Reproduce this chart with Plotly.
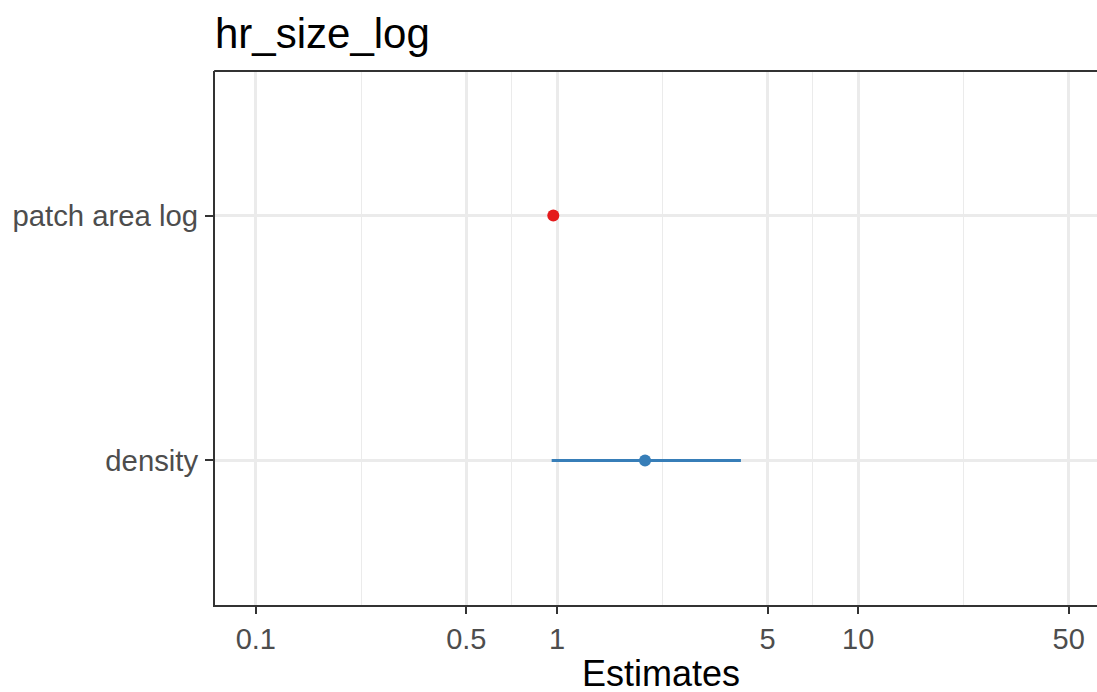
import plotly.graph_objects as go

# Model estimates (exponentiated) with confidence intervals
terms = ["density", "patch area log"]
estimates = [1.96, 0.972]
ci_low = [0.96, 0.962]
ci_high = [4.08, 0.982]
colors = ["#377EB8", "#E41A1C"]

x_ticks = [0.1, 0.5, 1, 5, 10, 50]
x_tick_labels = ["0.1", "0.5", "1", "5", "10", "50"]
# minor breaks sit halfway between major breaks on the log scale
minor_ticks = [(a * b) ** 0.5 for a, b in zip(x_ticks[:-1], x_ticks[1:])]

positions = list(range(1, len(terms) + 1))

fig = go.Figure()
for pos, est, lo, hi, col in zip(positions, estimates, ci_low, ci_high, colors):
    fig.add_trace(go.Scatter(
        x=[lo, hi], y=[pos, pos], mode="lines",
        line=dict(color=col, width=3), showlegend=False, hoverinfo="skip",
    ))
    fig.add_trace(go.Scatter(
        x=[est], y=[pos], mode="markers",
        marker=dict(color=col, size=12, line=dict(width=0)), showlegend=False,
    ))

font_family = "Liberation Sans, Arial, sans-serif"

fig.update_layout(
    width=1097, height=692,
    margin=dict(l=215, r=0, t=71, b=87),
    paper_bgcolor="white", plot_bgcolor="white",
    font=dict(family=font_family, color="#4D4D4D"),
    title=dict(
        text="hr_size_log", x=0, xref="paper", xanchor="left",
        y=1 - 33 / 692, yref="container", yanchor="middle",
        font=dict(size=42, color="black", family=font_family),
    ),
    xaxis=dict(
        type="log",
        range=[-1.1355, 1.7928],
        tickvals=x_ticks, ticktext=x_tick_labels,
        tickfont=dict(size=29, color="#4D4D4D"),
        showgrid=True, gridcolor="#EBEBEB", gridwidth=2.6,
        minor=dict(tickvals=minor_ticks, showgrid=True, gridcolor="#EBEBEB",
                   gridwidth=1.3, ticks=""),
        ticks="outside", ticklen=7, tickwidth=2, tickcolor="#333333",
        showline=True, linecolor="#333333", linewidth=2, mirror=False,
        zeroline=False,
    ),
    yaxis=dict(
        range=[0.41, 2.59],
        tickvals=positions, ticktext=terms,
        tickfont=dict(size=29.3, color="#4D4D4D"),
        showgrid=True, gridcolor="#EBEBEB", gridwidth=2.6,
        ticks="outside", ticklen=8, tickwidth=2, tickcolor="#333333",
        ticklabelstandoff=1,
        showline=True, linecolor="#333333", linewidth=2, mirror=False,
        zeroline=False,
    ),
    shapes=[dict(
        type="line", xref="paper", yref="paper", x0=-0.001, x1=1.05, y0=1, y1=1,
        line=dict(color="#333333", width=2), layer="above",
    )],
    annotations=[dict(
        text="Estimates", xref="paper", yref="paper",
        x=(661 - 215) / (1097 - 215), y=-(673 - 605) / (692 - 71 - 87),
        xanchor="center", yanchor="middle", showarrow=False,
        height=34, valign="middle",
        font=dict(size=36, color="black", family=font_family),
    )],
)

fig.write_html("out.html")
